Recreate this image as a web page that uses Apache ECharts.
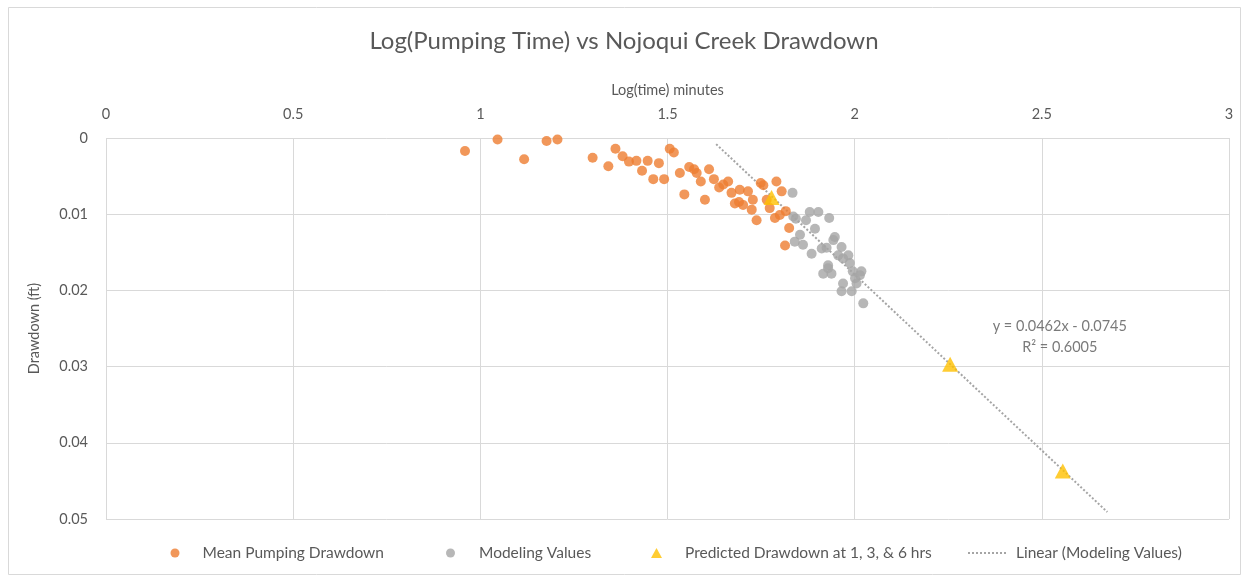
<!DOCTYPE html>
<html>
<head>
<meta charset="utf-8">
<script src="https://cdn.jsdelivr.net/npm/echarts@6/dist/echarts.min.js"></script>
<style>
  html, body { margin: 0; padding: 0; background: #fff; }
  #chart { width: 1248px; height: 581px; }
</style>
</head>
<body>
<div id="chart"></div>
<script>
// Mean pumping drawdown: [log10(minutes), drawdown ft]
const meanPumping = [
  [0.959, 0.0017], [1.046, 0.0002], [1.117, 0.0028], [1.177, 0.0004], [1.206, 0.0002],
  [1.300, 0.0026], [1.342, 0.0037], [1.361, 0.0014], [1.380, 0.0024], [1.397, 0.0031],
  [1.417, 0.0030], [1.432, 0.0043], [1.447, 0.0030], [1.462, 0.0054], [1.477, 0.0033],
  [1.491, 0.0054], [1.506, 0.0014], [1.517, 0.0019], [1.533, 0.0046], [1.545, 0.0074],
  [1.558, 0.0038], [1.571, 0.0041], [1.578, 0.0046], [1.589, 0.0057], [1.600, 0.0081],
  [1.611, 0.0041], [1.624, 0.0054], [1.638, 0.0065], [1.649, 0.0061], [1.662, 0.0057],
  [1.671, 0.0072], [1.680, 0.0086], [1.691, 0.0084], [1.693, 0.0068], [1.702, 0.0088],
  [1.715, 0.0070], [1.725, 0.0094], [1.728, 0.0081], [1.738, 0.0108], [1.749, 0.0059],
  [1.756, 0.0062], [1.765, 0.0081], [1.773, 0.0092], [1.787, 0.0105], [1.791, 0.0057],
  [1.800, 0.0101], [1.805, 0.0070], [1.814, 0.0141], [1.816, 0.0096], [1.825, 0.0118]
];

// Modeling values: [log10(minutes), drawdown ft]
const modeling = [
  [1.834, 0.0072], [1.836, 0.0103], [1.843, 0.0106], [1.840, 0.0136], [1.854, 0.0127],
  [1.862, 0.0140], [1.870, 0.0108], [1.880, 0.0097], [1.885, 0.0152], [1.894, 0.0119],
  [1.903, 0.0097], [1.912, 0.0145], [1.916, 0.0178], [1.925, 0.0144], [1.929, 0.0167],
  [1.929, 0.0171], [1.932, 0.0105], [1.938, 0.0178], [1.943, 0.0134], [1.947, 0.0130],
  [1.956, 0.0154], [1.965, 0.0143], [1.965, 0.0201], [1.969, 0.0158], [1.969, 0.0191],
  [1.983, 0.0154], [1.987, 0.0164], [1.992, 0.0201], [1.995, 0.0175], [2.001, 0.0184],
  [2.005, 0.0191], [2.014, 0.0180], [2.018, 0.0175], [2.023, 0.0217]
];

// Predicted drawdown at 1, 3 and 6 hours
const predicted = [
  [1.778, 0.0078], [2.255, 0.0297], [2.556, 0.0437]
];

// Linear fit of the modeling values, as printed on the chart
const trendSlope = 0.0462;
const trendIntercept = -0.0745;
const trendR2 = '0.6005';
const trendXRange = [1.63, 2.675];
const trendLabelAt = [2.548, 0.02605];

const xTicks = { min: 0, max: 3, interval: 0.5 };
const yTicks = { min: 0, max: 0.05, interval: 0.01 };

const trendLine = trendXRange.map(x => [x, trendSlope * x + trendIntercept]);

const font = 'Lato, "Open Sans", sans-serif';
const textColor = '#595959';
const gridColor = '#D9D9D9';

const chart = echarts.init(document.getElementById('chart'), null, { renderer: 'canvas' });

function legendAt(left, name, icon, w, h, padLeft, extra) {
  const item = Object.assign({ name: name }, icon ? { icon: icon } : {}, extra || {});
  return {
    left: left,
    top: 540,
    itemGap: 0,
    itemWidth: w,
    itemHeight: h,
    selectedMode: false,
    data: [item],
    textStyle: { color: textColor, fontSize: 15.5, fontFamily: font, padding: [0, 0, 0, padLeft] }
  };
}

chart.setOption({
  animation: false,
  backgroundColor: '#fff',
  title: {
    text: 'Log(Pumping Time) vs Nojoqui Creek Drawdown',
    left: 'center',
    top: 24,
    textStyle: { color: textColor, fontSize: 24, fontWeight: 'normal', fontFamily: font }
  },
  graphic: [{
    type: 'rect',
    shape: { x: 8.5, y: 7.5, width: 1232, height: 567 },
    style: { fill: 'none', stroke: '#D9D9D9', lineWidth: 1 },
    silent: true, z: -1
  }],
  legend: [
    legendAt(165.5, 'Mean Pumping Drawdown', 'circle', 9, 9, 18),
    legendAt(441, 'Modeling Values', 'circle', 9, 9, 19),
    legendAt(646, 'Predicted Drawdown at 1, 3, & 6 hrs', 'triangle', 11, 10, 18),
    legendAt(962, 'Linear (Modeling Values)', null, 38, 10, 5,
      { itemStyle: { color: 'rgba(0,0,0,0)', borderWidth: 0 } })
  ],
  grid: { left: 106, right: 19, top: 138, bottom: 62, containLabel: false },
  xAxis: {
    type: 'value',
    position: 'top',
    min: xTicks.min, max: xTicks.max, interval: xTicks.interval,
    name: 'Log(time) minutes',
    nameLocation: 'middle',
    nameGap: 40,
    nameTextStyle: { color: textColor, fontSize: 14.5, fontFamily: font },
    axisLine: { show: false },
    axisTick: { show: false },
    axisLabel: { color: textColor, fontSize: 14.5, fontFamily: font, margin: 16 },
    splitLine: { show: true, lineStyle: { color: gridColor, width: 1 } }
  },
  yAxis: {
    type: 'value',
    inverse: true,
    min: yTicks.min, max: yTicks.max, interval: yTicks.interval,
    name: 'Drawdown (ft)',
    nameLocation: 'middle',
    nameGap: 64,
    nameTextStyle: { color: textColor, fontSize: 14.5, fontFamily: font },
    axisLine: { show: false },
    axisTick: { show: false },
    axisLabel: { color: textColor, fontSize: 14.5, fontFamily: font, margin: 18 },
    splitLine: { show: true, lineStyle: { color: gridColor, width: 1 } }
  },
  series: [
    {
      name: 'Linear (Modeling Values)',
      type: 'line',
      data: trendLine,
      symbol: 'none',
      lineStyle: { color: '#A5A5A5', width: 2, type: [2, 2] },
      itemStyle: { color: '#A5A5A5' },
      z: 1
    },
    {
      name: 'Modeling Values',
      type: 'scatter',
      data: modeling,
      symbol: 'circle',
      symbolSize: 10,
      itemStyle: { color: '#A5A5A5' },
      z: 2
    },
    {
      name: 'Mean Pumping Drawdown',
      type: 'scatter',
      data: meanPumping,
      symbol: 'circle',
      symbolSize: 10,
      itemStyle: { color: '#ED7D31' },
      z: 3
    },
    {
      name: 'Predicted Drawdown at 1, 3, & 6 hrs',
      type: 'scatter',
      data: predicted,
      symbol: 'triangle',
      symbolSize: [16, 15],
      itemStyle: { color: '#FFC000' },
      z: 4
    },
    {
      name: 'trend-equation',
      type: 'scatter',
      data: [trendLabelAt],
      symbolSize: 0,
      silent: true,
      label: {
        show: true,
        position: 'inside',
        formatter: 'y = ' + trendSlope + 'x - ' + Math.abs(trendIntercept) + '\nR² = ' + trendR2,
        color: textColor,
        fontSize: 14.5,
        lineHeight: 21,
        fontFamily: font,
        align: 'center'
      },
      z: 5
    }
  ]
});
</script>
</body>
</html>
